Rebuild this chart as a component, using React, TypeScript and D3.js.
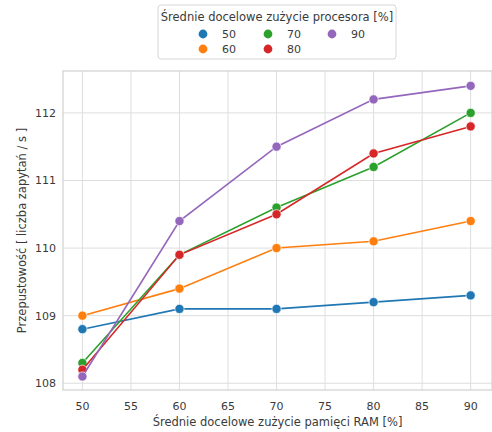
import React from 'react';
import * as d3 from 'd3';

const ramLevels = [50, 60, 70, 80, 90];
const cpuLevels = ['50', '60', '70', '80', '90'];
const colors = ['#1f77b4', '#ff7f0e', '#2ca02c', '#d62728', '#9467bd'];

const cpu50 = [108.8, 109.1, 109.1, 109.2, 109.3];
const cpu60 = [109.0, 109.4, 110.0, 110.1, 110.4];
const cpu70 = [108.3, 109.9, 110.6, 111.2, 112.0];
const cpu80 = [108.2, 109.9, 110.5, 111.4, 111.8];
const cpu90 = [108.1, 110.4, 111.5, 112.2, 112.4];

const seriesValues = [cpu50, cpu60, cpu70, cpu80, cpu90];
const xTicks = [50, 55, 60, 65, 70, 75, 80, 85, 90];
const yTicks = [108, 109, 110, 111, 112];

const W = 492;
const H = 432;
const font = 'DejaVu Sans, sans-serif';

export default function App() {
    const plot = { left: 63, right: 492, top: 71, bottom: 390 };

    const x = d3.scaleLinear().domain([48, 92.2]).range([plot.left, plot.right]);
    const y = d3.scaleLinear().domain([107.9, 112.62]).range([plot.bottom, plot.top]);

    const line = d3
        .line<number>()
        .x((d, i) => x(ramLevels[i]))
        .y((d) => y(d));

    const gridColor = '#dedede';
    const textColor = '#3a3a3a';

    // legend layout, three columns, filled down
    const legendX = 158;
    const legendY = 5;
    const legendW = 238;
    const legendH = 54;
    const colX = [203, 268, 332];
    const rowY = [34, 49];

    return (
        <svg width={W} height={H} style={{ position: 'absolute', left: 0, top: 0 }}>
            <rect width={W} height={H} fill="white" />
            {xTicks.map((t) => (
                <line key={'gx' + t} x1={x(t)} x2={x(t)} y1={plot.top} y2={plot.bottom} stroke={gridColor} strokeWidth={1} />
            ))}
            {yTicks.map((t) => (
                <line key={'gy' + t} x1={plot.left} x2={plot.right} y1={y(t)} y2={y(t)} stroke={gridColor} strokeWidth={1} />
            ))}
            <rect x={plot.left} y={plot.top} width={plot.right - plot.left} height={plot.bottom - plot.top}
                fill="none" stroke="#d0d0d0" strokeWidth={1.2} />

            {xTicks.map((t) => (
                <text key={'tx' + t} x={x(t)} y={plot.bottom + 20} textAnchor="middle" fontFamily={font} fontSize={11} fill={textColor}>{t}</text>
            ))}
            {yTicks.map((t) => (
                <text key={'ty' + t} x={plot.left - 7} y={y(t) + 4} textAnchor="end" fontFamily={font} fontSize={11} fill={textColor}>{t}</text>
            ))}

            <text x={(plot.left + plot.right) / 2} y={426} textAnchor="middle" fontFamily={font} fontSize={11.5} fill={textColor}>
                Średnie docelowe zużycie pamięci RAM [%]
            </text>
            <text transform={`translate(26,${(plot.top + plot.bottom) / 2}) rotate(-90)`} textAnchor="middle" fontFamily={font} fontSize={11.5} fill={textColor}>
                Przepustowość [ liczba zapytań / s ]
            </text>

            {seriesValues.map((vals, si) => (
                <g key={'s' + si}>
                    <path d={line(vals) || ''} fill="none" stroke={colors[si]} strokeWidth={1.6} />
                    {vals.map((v, i) => (
                        <circle key={i} cx={x(ramLevels[i])} cy={y(v)} r={4.6} fill={colors[si]} stroke="white" strokeWidth={0.7} />
                    ))}
                </g>
            ))}

            <rect x={legendX} y={legendY} width={legendW} height={legendH} rx={3} fill="white" fillOpacity={0.85} stroke="#d6d6d6" />
            <text x={legendX + legendW / 2} y={21} textAnchor="middle" fontFamily={font} fontSize={11.5} fill={textColor}>
                Średnie docelowe zużycie procesora [%]
            </text>
            {cpuLevels.map((c, i) => {
                const col = Math.floor(i / 2);
                const row = i % 2;
                return (
                    <g key={'l' + c}>
                        <circle cx={colX[col]} cy={rowY[row]} r={4.4} fill={colors[i]} />
                        <text x={colX[col] + 19} y={rowY[row] + 4} fontFamily={font} fontSize={11} fill={textColor}>{c}</text>
                    </g>
                );
            })}
        </svg>
    );
}
